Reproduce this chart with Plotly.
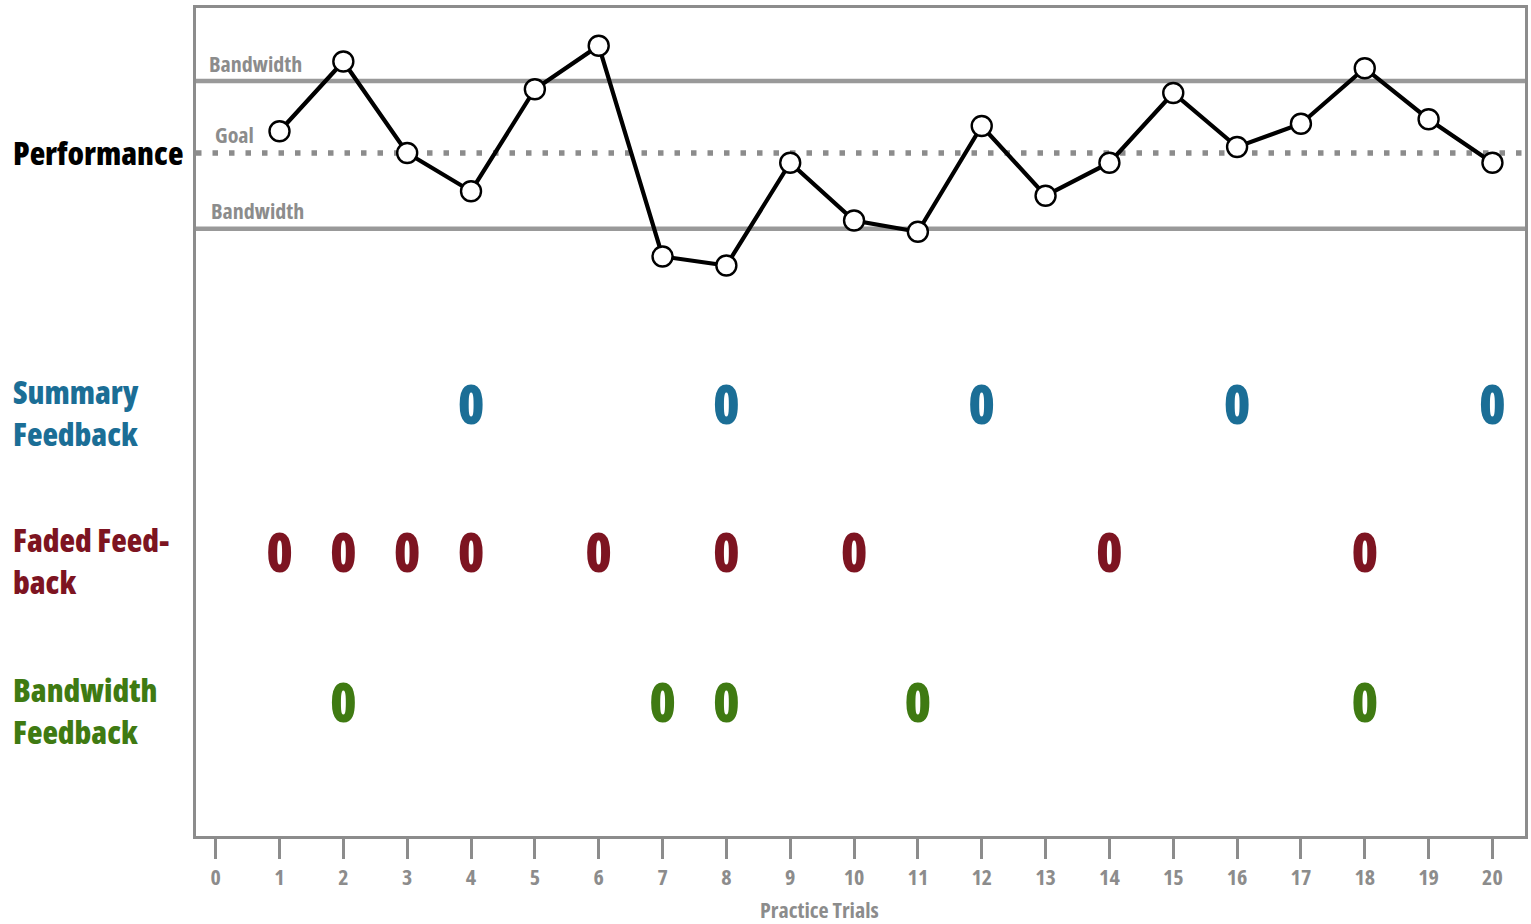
import plotly.graph_objects as go

# ---- data ----
trials = list(range(1, 21))
performance = [0.29, 1.22, 0.0, -0.51, 0.85, 1.43, -1.38, -1.50, -0.13, -0.90,
               -1.05, 0.36, -0.57, -0.13, 0.80, 0.08, 0.39, 1.13, 0.45, -0.13]
goal = 0.0
upper_band = 0.96
lower_band = -1.01
summary_trials = [4, 8, 12, 16, 20]
faded_trials = [1, 2, 3, 4, 6, 8, 10, 14, 18]
bandwidth_trials = [2, 7, 8, 11, 18]
x_ticks = list(range(0, 21))
row_labels = ["Performance", "Summary<br>Feedback", "Faded Feed-<br>back", "Bandwidth<br>Feedback"]
label_y = [0.0, -3.46, -5.44, -7.44]
row_y = [0.0, -3.43, -5.41, -7.41]

FONT = "Open Sans"
GRAY = "#8c8c8c"
BLUE = "#1b6e96"
RED = "#7d1421"
GREEN = "#3f7a12"


def cond(s):
    return '<span style="font-stretch:75%">' + s + '</span>'


fig = go.Figure()

# performance line
fig.add_trace(go.Scatter(
    x=trials, y=performance, mode="lines+markers",
    line=dict(color="black", width=4.2),
    marker=dict(size=20, color="white", line=dict(color="black", width=2.4)),
    showlegend=False, hoverinfo="skip"))

# feedback rows as "0" glyphs
for tr, yv, col in [(summary_trials, row_y[1], BLUE),
                    (faded_trials, row_y[2], RED),
                    (bandwidth_trials, row_y[3], GREEN)]:
    fig.add_trace(go.Scatter(
        x=tr, y=[yv] * len(tr), mode="text", text=[cond("0")] * len(tr),
        textfont=dict(family=FONT, size=54, color=col, weight=800),
        textposition="middle center", showlegend=False, hoverinfo="skip"))

# goal and bandwidth lines
fig.add_shape(type="line", xref="paper", x0=0, x1=1, y0=goal, y1=goal,
              line=dict(color=GRAY, width=5.5, dash="5.5px,11px"), layer="below")
for b in (upper_band, lower_band):
    fig.add_shape(type="line", xref="paper", x0=0, x1=1, y0=b, y1=b,
                  line=dict(color="#999999", width=4.5), layer="below")

# in-plot gray labels
fig.add_annotation(xref="paper", x=0.008, y=upper_band, text=cond("Bandwidth"), showarrow=False,
                   xanchor="left", yanchor="bottom", yshift=1,
                   font=dict(family=FONT, size=22, color=GRAY, weight=700))
fig.add_annotation(xref="paper", x=0.013, y=goal, text=cond("Goal"), showarrow=False,
                   xanchor="left", yanchor="bottom", yshift=2,
                   font=dict(family=FONT, size=22, color=GRAY, weight=700))
fig.add_annotation(xref="paper", x=0.0095, y=lower_band, text=cond("Bandwidth"), showarrow=False,
                   xanchor="left", yanchor="bottom", yshift=2,
                   font=dict(family=FONT, size=22, color=GRAY, weight=700))

# row labels on the left
label_cols = ["black", BLUE, RED, GREEN]
for lab, yv, col in zip(row_labels, label_y, label_cols):
    fig.add_annotation(xref="paper", x=-0.1395, y=yv, text=cond(lab), showarrow=False,
                       xanchor="left", yanchor="middle", align="left",
                       font=dict(family=FONT, size=32, color=col, weight=800))

# x-axis title (sits a little left of centre in the reference)
fig.add_annotation(xref="paper", yref="paper", x=0.469, y=0, yshift=-73, text=cond("Practice Trials"),
                   showarrow=False, xanchor="center", yanchor="middle",
                   font=dict(family=FONT, size=22, color=GRAY, weight=700))

fig.update_xaxes(range=[-0.308, 20.51], tickmode="array", tickvals=x_ticks,
                 ticktext=[cond(str(t)) for t in x_ticks], ticks="outside", ticklen=20, tickwidth=3,
                 tickcolor=GRAY, showgrid=False, zeroline=False,
                 showline=True, linecolor=GRAY, linewidth=3, mirror=True,
                 tickfont=dict(family=FONT, size=22, color=GRAY, weight=700))
fig.update_yaxes(range=[-9.107, 1.933], showticklabels=False, ticks="", showgrid=False,
                 zeroline=False, showline=True, linecolor=GRAY, linewidth=3, mirror=True)

fig.update_layout(width=1531, height=924, margin=dict(l=196, r=3, t=8, b=88),
                  plot_bgcolor="white", paper_bgcolor="white")

# remove the browser's default 8px body margin so the figure fills the window exactly
fig.write_html("out.html", config={"displayModeBar": False},
               post_script="document.body.style.margin='0';document.body.style.overflow='hidden';")
